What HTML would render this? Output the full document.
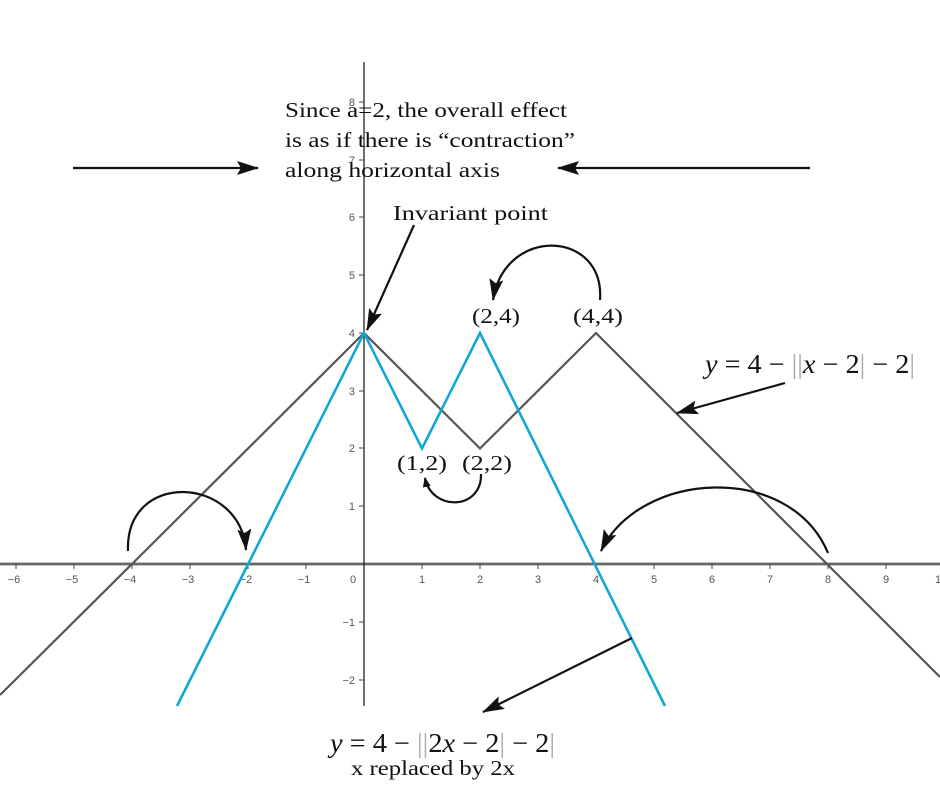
<!DOCTYPE html>
<html><head><meta charset="utf-8"><style>
html,body{margin:0;padding:0;background:#fff;}
svg{display:block;}
.t{font-family:"Liberation Serif",serif;font-size:21px;fill:#111;}
.k{font-family:"Liberation Sans",sans-serif;font-size:11px;fill:#555;}
.eq{font-family:"Liberation Serif",serif;font-size:27px;fill:#111;}
</style></head><body>
<svg width="940" height="801" viewBox="0 0 940 801" xmlns="http://www.w3.org/2000/svg">
<defs>
<marker id="ah" markerWidth="10" markerHeight="8" refX="9" refY="4" orient="auto" markerUnits="userSpaceOnUse" viewBox="0 0 10 8">
<path d="M0,0 L10,4 L0,8 Z" fill="#111"/></marker>
<marker id="ah2" markerWidth="22" markerHeight="14" refX="21" refY="7" orient="auto" markerUnits="userSpaceOnUse" viewBox="0 0 22 14">
<path d="M0,0 L22,7 L0,14 L4,7 Z" fill="#111"/></marker>
</defs>
<line x1="0" y1="564" x2="940" y2="564" stroke="#888" stroke-width="3"/>
<line x1="0" y1="564" x2="940" y2="564" stroke="#444" stroke-width="1"/>
<line x1="364" y1="62" x2="364" y2="706" stroke="#222" stroke-width="1.3"/>
<g stroke="#444" stroke-width="1">
<line x1="16" y1="564" x2="16" y2="569"/><line x1="74" y1="564" x2="74" y2="569"/><line x1="132" y1="564" x2="132" y2="569"/><line x1="190" y1="564" x2="190" y2="569"/><line x1="248" y1="564" x2="248" y2="569"/><line x1="306" y1="564" x2="306" y2="569"/><line x1="422" y1="564" x2="422" y2="569"/><line x1="480" y1="564" x2="480" y2="569"/><line x1="538" y1="564" x2="538" y2="569"/><line x1="596" y1="564" x2="596" y2="569"/><line x1="654" y1="564" x2="654" y2="569"/><line x1="712" y1="564" x2="712" y2="569"/><line x1="770" y1="564" x2="770" y2="569"/><line x1="828" y1="564" x2="828" y2="569"/><line x1="886" y1="564" x2="886" y2="569"/>
<line x1="359" y1="102" x2="364" y2="102"/><line x1="359" y1="160" x2="364" y2="160"/><line x1="359" y1="217" x2="364" y2="217"/><line x1="359" y1="275" x2="364" y2="275"/><line x1="359" y1="333" x2="364" y2="333"/><line x1="359" y1="391" x2="364" y2="391"/><line x1="359" y1="448" x2="364" y2="448"/><line x1="359" y1="506" x2="364" y2="506"/><line x1="359" y1="622" x2="364" y2="622"/><line x1="359" y1="680" x2="364" y2="680"/>
</g>
<g class="k" text-anchor="middle">
<text x="14" y="583">−6</text><text x="72" y="583">−5</text><text x="130" y="583">−4</text><text x="188" y="583">−3</text><text x="246" y="583">−2</text><text x="304" y="583">−1</text><text x="353" y="583">0</text><text x="422" y="583">1</text><text x="480" y="583">2</text><text x="538" y="583">3</text><text x="596" y="583">4</text><text x="654" y="583">5</text><text x="712" y="583">6</text><text x="770" y="583">7</text><text x="828" y="583">8</text><text x="886" y="583">9</text><text x="938" y="583">1</text>
</g>
<g class="k" text-anchor="end">
<text x="355" y="106">8</text><text x="355" y="164">7</text><text x="355" y="221">6</text><text x="355" y="279">5</text><text x="355" y="337">4</text><text x="355" y="395">3</text><text x="355" y="452">2</text><text x="355" y="510">1</text><text x="355" y="626">−1</text><text x="355" y="684">−2</text>
</g>
<polyline points="0,695 132,564 364,333 480,448.5 596,333 940,677" fill="none" stroke="#555" stroke-width="2.2"/>
<polyline points="177,706 364,333 422,448.5 480,333 665,706" fill="none" stroke="#12a8d6" stroke-width="2.6"/>
<g stroke="#111" stroke-width="2.2" fill="none">
<line x1="73" y1="168" x2="258" y2="168" marker-end="url(#ah2)"/>
<line x1="810" y1="168" x2="558" y2="168" marker-end="url(#ah2)"/>
<line x1="414" y1="225" x2="367" y2="330" marker-end="url(#ah2)"/>
<path d="M600,300 C605,230 505,225 493,300" marker-end="url(#ah2)"/>
<path d="M481,474 C482,510 432,512 425,478" marker-end="url(#ah)"/>
<path d="M128,551 C125,470 240,475 246,550" marker-end="url(#ah2)"/>
<path d="M828,553 C790,462 640,470 601,551" marker-end="url(#ah2)"/>
<line x1="785" y1="383" x2="677" y2="413" marker-end="url(#ah2)"/>
<line x1="632" y1="638" x2="483" y2="712" marker-end="url(#ah2)"/>
</g>
<text class="t" x="285" y="117" textLength="282" lengthAdjust="spacingAndGlyphs">Since a=2, the overall effect</text>
<text class="t" x="285" y="147" textLength="290" lengthAdjust="spacingAndGlyphs">is as if there is “contraction”</text>
<text class="t" x="285" y="177" textLength="215" lengthAdjust="spacingAndGlyphs">along horizontal axis</text>
<text class="t" x="393" y="220" textLength="155" lengthAdjust="spacingAndGlyphs">Invariant point</text>
<text class="t" x="472" y="323" textLength="48" lengthAdjust="spacingAndGlyphs">(2,4)</text>
<text class="t" x="573" y="323" textLength="50" lengthAdjust="spacingAndGlyphs">(4,4)</text>
<text class="t" x="397" y="470" textLength="50" lengthAdjust="spacingAndGlyphs">(1,2)</text>
<text class="t" x="462" y="470" textLength="50" lengthAdjust="spacingAndGlyphs">(2,2)</text>
<text class="eq" x="705" y="373" textLength="210" lengthAdjust="spacingAndGlyphs"><tspan font-style="italic">y</tspan> = 4 − <tspan fill="#aaa">||</tspan><tspan font-style="italic">x</tspan> − 2<tspan fill="#aaa">|</tspan> − 2<tspan fill="#aaa">|</tspan></text>
<text class="eq" x="330" y="752" textLength="225" lengthAdjust="spacingAndGlyphs"><tspan font-style="italic">y</tspan> = 4 − <tspan fill="#aaa">||</tspan>2<tspan font-style="italic">x</tspan> − 2<tspan fill="#aaa">|</tspan> − 2<tspan fill="#aaa">|</tspan></text>
<text class="t" x="351" y="775" textLength="164" lengthAdjust="spacingAndGlyphs">x replaced by 2x</text>
</svg>
</body></html>
